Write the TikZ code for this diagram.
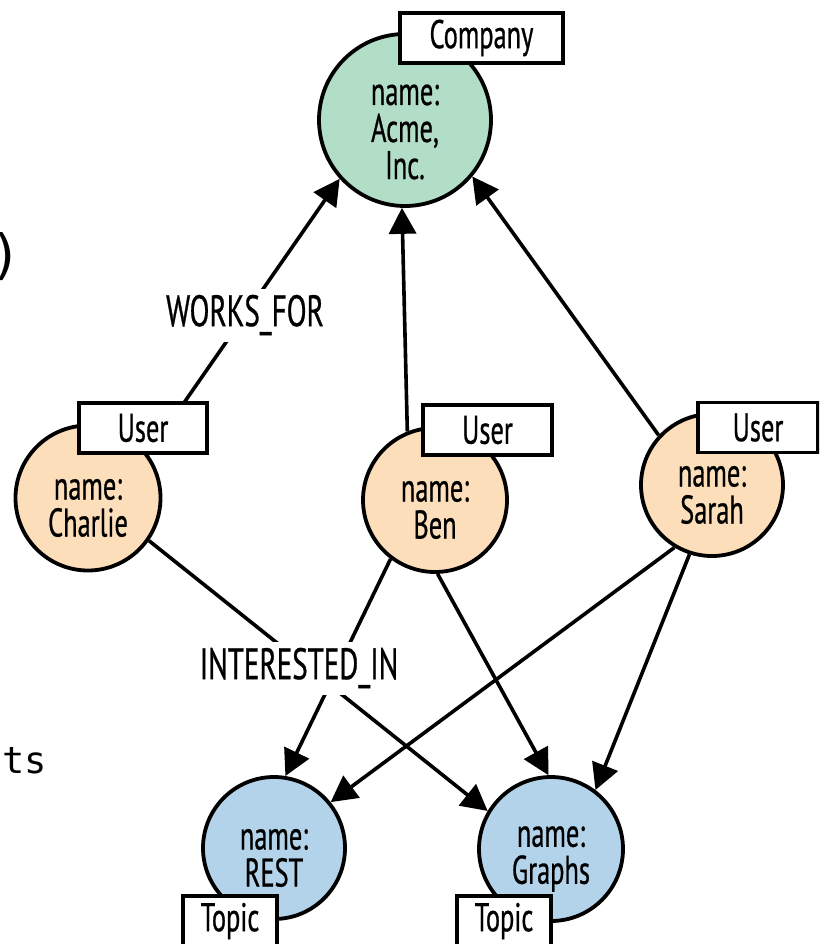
\documentclass[tikz,border=0pt]{standalone}
\usepackage{fontspec}
\setmainfont{PT Sans}[FakeStretch=0.66, FakeBold=0.6]
\newfontfamily\codefont{DejaVu Sans Mono}
\usetikzlibrary{arrows.meta}

\definecolor{companyfill}{RGB}{178,222,200}
\definecolor{userfill}{RGB}{252,222,186}
\definecolor{topicfill}{RGB}{178,211,234}

\tikzset{
  entity/.style={circle, draw=black, line width=3.8pt, inner sep=0pt},
  tagbox/.style={rectangle, draw=black, fill=white, line width=3.8pt,
    minimum height=50pt, inner sep=0pt, font=\fontsize{40}{42}\selectfont},
  nametext/.style={align=center, inner sep=0pt, font=\fontsize{40}{37}\selectfont},
  rel/.style={line width=3.6pt, -{Triangle[length=26pt,width=27pt]}},
  rellabel/.style={fill=white, inner xsep=3pt, inner ysep=0pt,
    minimum height=53pt, font=\fontsize{44}{44}\selectfont},
  codetext/.style={inner sep=0pt},
}

\begin{document}
\begin{tikzpicture}[x=1pt, y=-1pt]
  \useasboundingbox (0,0) rectangle (819,944);
  \clip (0,0) rectangle (819,944);

  % graph nodes
  \node[entity, fill=companyfill, minimum size=172pt] (company) at (405,120) {};
  \node[entity, fill=userfill, minimum size=145pt] (charlie) at (88,498) {};
  \node[entity, fill=userfill, minimum size=144pt] (ben) at (435,500) {};
  \node[entity, fill=userfill, minimum size=142pt] (sarah) at (712,485) {};
  \node[entity, fill=topicfill, minimum size=142pt] (rest) at (274,848) {};
  \node[entity, fill=topicfill, minimum size=144pt] (graphs) at (551,849) {};

  % property text
  \node[nametext] (company-text) at ([yshift=-12pt]company.center) {name:\\Acme,\\Inc.};
  \node[nametext] (charlie-text) at ([yshift=-10pt]charlie.center) {name:\\Charlie};
  \node[nametext] (ben-text) at ([yshift=-10pt]ben.center) {name:\\Ben};
  \node[nametext] (sarah-text) at ([yshift=-10pt]sarah.center) {name:\\Sarah};
  \node[nametext] (rest-text) at ([yshift=-10pt]rest.center) {name:\\REST};
  \node[nametext] (graphs-text) at ([yshift=-10pt]graphs.center) {name:\\Graphs};

  % relationships
  \draw[rel] (charlie.36) -- (company.222);
  \draw[rel] (ben.112) -- (company.268);
  \draw[rel] (sarah.137) -- (company.320);
  \draw[rel] (charlie.325) -- (graphs.149);
  \draw[rel] (ben.233) -- (rest.81);
  \draw[rel] (ben.272) -- (graphs.92);
  \draw[rel] (sarah.239) -- (rest.39);
  \draw[rel] (sarah.252) -- (graphs.53);

  % relationship type labels
  \node[rellabel] (works-for) at (245,315) {WORKS\_FOR};
  \node[rellabel] (interested-in) at (299,668) {INTERESTED\_IN};

  % node labels
  \node[tagbox, minimum width=163pt] (company-tag) at (481.5,38) {Company};
  \node[tagbox, minimum width=128pt] (charlie-tag) at (143,428) {User};
  \node[tagbox, minimum width=129pt] (ben-tag) at (487.5,430) {User};
  \node[tagbox, minimum width=120pt] (sarah-tag) at (758,427.5) {User};
  \node[tagbox, minimum width=94pt] (rest-tag) at (230,921) {Topic};
  \node[tagbox, minimum width=94pt] (graphs-tag) at (504,921) {Topic};

  % surrounding code text
  \node[codetext, anchor=east, font=\codefont\fontsize{54}{54}\selectfont] (paren) at (22,257) {)};
  \node[codetext, anchor=base east, font=\codefont\fontsize{37}{37}\selectfont] (code-ts) at (47,773) {ts};
\end{tikzpicture}
\end{document}
